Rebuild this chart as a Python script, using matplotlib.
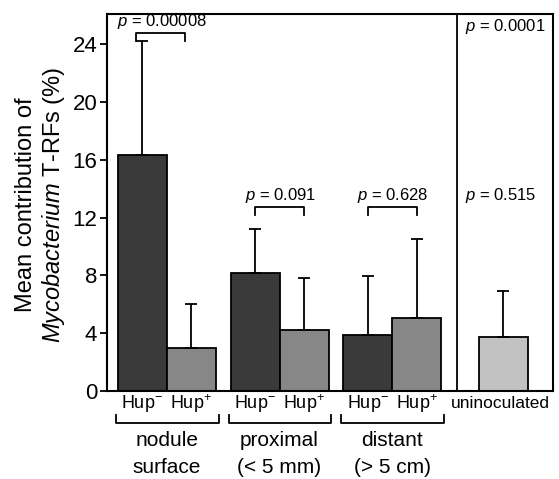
import matplotlib
matplotlib.use("Agg")
import matplotlib.pyplot as plt
import numpy as np

plt.rcParams['font.family'] = ['Liberation Sans', 'DejaVu Sans']
plt.rcParams['mathtext.fontset'] = 'custom'
plt.rcParams['mathtext.rm'] = 'Liberation Sans'
plt.rcParams['mathtext.it'] = 'Liberation Sans:italic'
plt.rcParams['mathtext.bf'] = 'Liberation Sans:bold'

# ---- data ----
groups = ["nodule\nsurface", "proximal\n(< 5 mm)", "distant\n(> 5 cm)"]
hup_minus = [16.35, 8.2, 3.9]
hup_minus_err = [7.85, 3.0, 4.05]
hup_plus = [3.0, 4.2, 5.05]
hup_plus_err = [3.0, 3.6, 5.45]
pair_p = ["0.00008", "0.091", "0.628"]
unin_mean = 3.72
unin_err = 3.2
unin_p_top = "0.0001"
unin_p_mid = "0.515"
yticks = [0, 4, 8, 12, 16, 20, 24]

# ---- style ----
c_minus = "#3a3a3a"
c_plus = "#878787"
c_unin = "#c2c2c2"
W, H = 559, 479
fig = plt.figure(figsize=(W / 100, H / 100), dpi=100)
ax = fig.add_axes([107 / W, 1 - 391 / H, (553 - 107) / W, (391 - 14) / H])

centers = np.array([1.22, 3.52, 5.82])
unin_x = 8.08
divider_x = 7.14
bw = 1.0

kw = dict(width=bw, edgecolor="black", linewidth=1.3, zorder=2)
ekw = dict(elinewidth=1.3, capthick=1.3)
ax.bar(centers - 0.5, hup_minus, color=c_minus,
       yerr=[np.zeros(3), hup_minus_err], capsize=4, error_kw=ekw, **kw)
ax.bar(centers + 0.5, hup_plus, color=c_plus,
       yerr=[np.zeros(3), hup_plus_err], capsize=4, error_kw=ekw, **kw)
ax.bar([unin_x], [unin_mean], color=c_unin,
       yerr=[[0], [unin_err]], capsize=4, error_kw=ekw, **kw)

ax.axvline(divider_x, color="black", linewidth=1.3)

ax.set_xlim(0, 9.1)
ax.set_ylim(0, 26.1)
ax.set_xticks([])
ax.set_yticks(yticks)
ax.set_yticklabels([str(t) for t in yticks], fontsize=16)
ax.tick_params(axis="y", direction="out", length=5, width=1.3, pad=2)
for s in ax.spines.values():
    s.set_linewidth(1.5)

# significance brackets
btops = [24.8, 12.75, 12.75]
bdrop = 0.55
offs = [-0.12, 0.0, 0.0]
for c, p, bt, o in zip(centers, pair_p, btops, offs):
    x0, x1 = c - 0.5 + o, c + 0.5 + o
    ax.plot([x0, x0, x1, x1], [bt - bdrop, bt, bt, bt - bdrop], color="black",
            linewidth=1.3, clip_on=False)
    ax.text((x0 + x1) / 2 + 0.02, bt + 0.5, "$p$ = " + p, ha="center",
            va="baseline", fontsize=12)

ax.text(unin_x + 0.04, 24.9, "$p$ = " + unin_p_top, ha="center", va="baseline", fontsize=12)
ax.text(unin_x - 0.05, 13.25, "$p$ = " + unin_p_mid, ha="center", va="baseline", fontsize=12)

# x labels below axis
for c, g in zip(centers, groups):
    ax.text(c - 0.5, -0.85, r"Hup$^{-}$", ha="center", va="center", fontsize=13, clip_on=False)
    ax.text(c + 0.5, -0.85, r"Hup$^{+}$", ha="center", va="center", fontsize=13, clip_on=False)
    x0, x1 = c - 1.04, c + 1.06
    ax.plot([x0, x0, x1, x1], [-1.65, -2.2, -2.2, -1.65], color="black",
            linewidth=1.3, clip_on=False)
    ax.text(c, -4.35, g, ha="center", va="center", fontsize=15,
            linespacing=1.5, clip_on=False)
ax.text(unin_x - 0.05, -0.85, "uninoculated", ha="center", va="center",
        fontsize=12.5, clip_on=False)

fig.text(41 / W, 1 - 205 / H,
         "Mean contribution of\n$\\mathit{Mycobacterium}$ T-RFs (%)",
         rotation=90, ha="center", va="center", fontsize=17, linespacing=1.15)

fig.savefig("out.png", dpi=100)
